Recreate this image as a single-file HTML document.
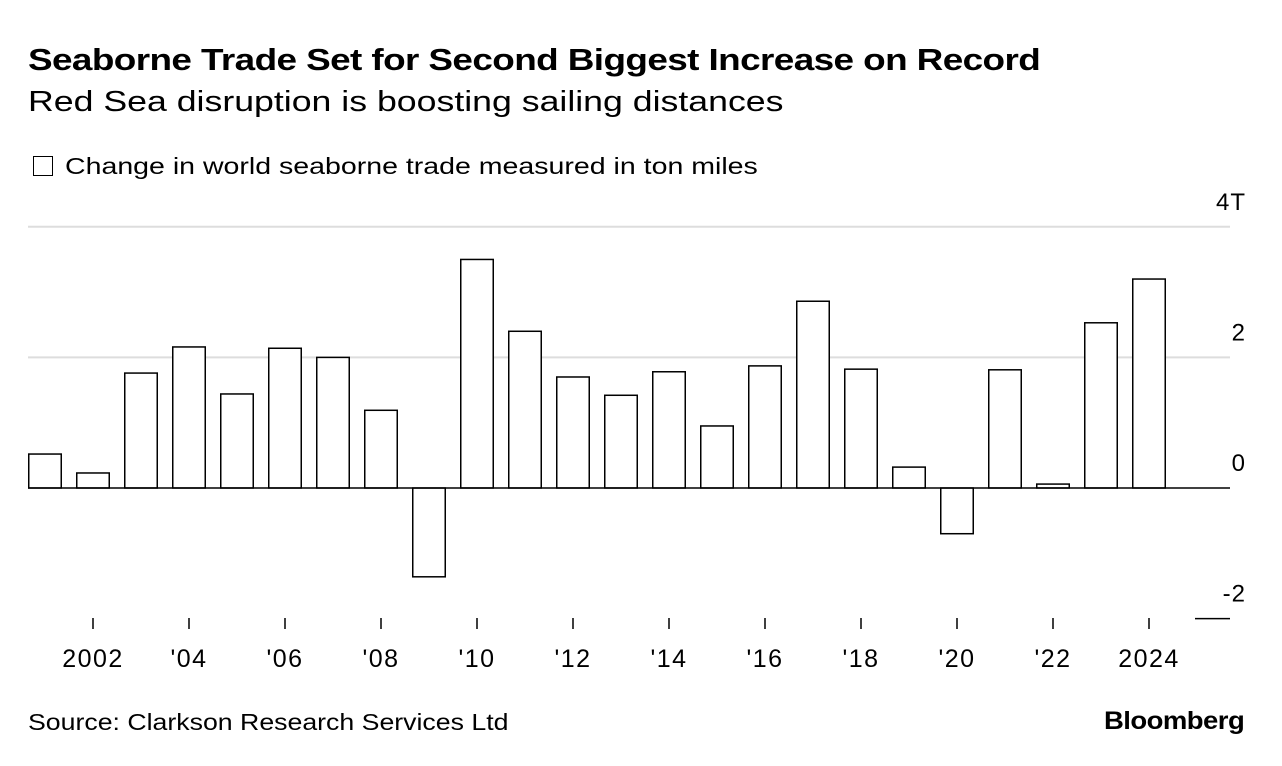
<!DOCTYPE html>
<html><head><meta charset="utf-8"><style>
body{margin:0;width:1282px;height:766px;background:#fff;font-family:"Liberation Sans",sans-serif;color:#000;position:relative;overflow:hidden}
.t{position:absolute;white-space:nowrap;transform-origin:0 0}
</style></head><body>
<div class="t" style="left:28px;top:42px;font-size:31px;font-weight:bold;letter-spacing:-0.5px;transform:scaleX(1.19)">Seaborne Trade Set for Second Biggest Increase on Record</div>
<div class="t" style="left:28px;top:86px;font-size:29px;transform:scaleX(1.23)">Red Sea disruption is boosting sailing distances</div>
<div class="t" style="left:33px;top:153px;font-size:23px"><span style="display:inline-block;width:20px;height:20px;border:1.5px solid #000;box-sizing:border-box;vertical-align:-2px;margin-right:12px"></span><span style="display:inline-block;transform:scaleX(1.24);transform-origin:0 0">Change in world seaborne trade measured in ton miles</span></div>
<svg id="c" width="1282" height="700" style="position:absolute;left:0;top:0"></svg>
<div class="t" style="left:28px;top:709px;font-size:23px;transform:scaleX(1.16)">Source: Clarkson Research Services Ltd</div>
<div class="t" style="left:1104px;top:707px;font-size:25px;font-weight:bold;letter-spacing:-0.5px;transform:scaleX(1.1)">Bloomberg</div>
<script>
const years=[2001,2002,2003,2004,2005,2006,2007,2008,2009,2010,2011,2012,2013,2014,2015,2016,2017,2018,2019,2020,2021,2022,2023,2024];
const values=[0.52,0.23,1.76,2.16,1.44,2.14,2.0,1.19,-1.36,3.5,2.4,1.7,1.42,1.78,0.95,1.87,2.86,1.82,0.32,-0.7,1.81,0.06,2.53,3.2];
const yTicks=[4,2,0,-2];
const yTickLabels=["4T","2","0","-2"];
const xTickYears=[2002,2004,2006,2008,2010,2012,2014,2016,2018,2020,2022,2024];
const xTickLabels=["2002","'04","'06","'08","'10","'12","'14","'16","'18","'20","'22","2024"];
const svg=document.getElementById('c');const NS='http://www.w3.org/2000/svg';
const y=v=>488-v*65.3;
const x=yr=>28+48*(yr-2001);
function mk(t,a){const e=document.createElementNS(NS,t);for(const k in a)e.setAttribute(k,a[k]);svg.appendChild(e);return e;}
yTicks.forEach((v,i)=>{
 if(v>0){const g=mk('line',{x1:28,x2:1230,y1:y(v),y2:y(v),stroke:'#ddd','stroke-width':2});
 
 }
 const t=mk('text',{x:1246,y:y(v)-17,'text-anchor':'end','font-size':24,'letter-spacing':1,'font-family':'Liberation Sans, sans-serif'});
 t.textContent=yTickLabels[i];
 
 
});
const ml=mk('line',{x1:1195,x2:1230,y1:y(-2),y2:y(-2),stroke:'#000','stroke-width':1.5});


years.forEach((yr,i)=>{
 const v=values[i];const top=Math.min(y(v),y(0));const h=Math.abs(y(v)-y(0));
 const r=mk('rect',{x:x(yr)+0.75,y:top,width:32.5,height:h,fill:'#fff',stroke:'#000','stroke-width':1.5});
 
 
});
const z=mk('line',{x1:28,x2:1230,y1:y(0),y2:y(0),stroke:'#000','stroke-width':1.5});


xTickYears.forEach((yr,i)=>{
 const cx=x(yr)+17;
 const tk=mk('line',{x1:cx,x2:cx,y1:618,y2:629,stroke:'#000','stroke-width':1.5});
 
 
 const t=mk('text',{x:cx,y:667,'text-anchor':'middle','font-size':25,'letter-spacing':1.5,'font-family':'Liberation Sans, sans-serif'});
 t.textContent=xTickLabels[i];
 
 
});
</script>
</body></html>
